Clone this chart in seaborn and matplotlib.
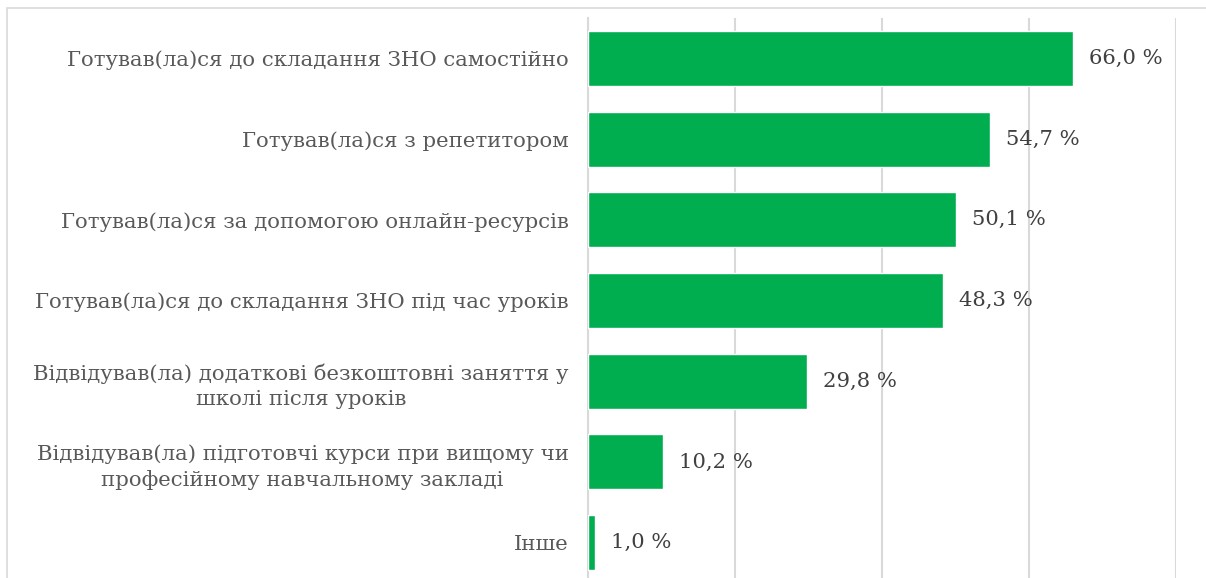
import matplotlib.pyplot as plt
import matplotlib.patches as mpatches
import pandas as pd
import seaborn as sns

categories = [
    "Готував(ла)ся до складання ЗНО самостійно",
    "Готував(ла)ся з репетитором",
    "Готував(ла)ся за допомогою онлайн-ресурсів",
    "Готував(ла)ся до складання ЗНО під час уроків",
    "Відвідував(ла) додаткові безкоштовні заняття у\nшколі після уроків",
    "Відвідував(ла) підготовчі курси при вищому чи\nпрофесійному навчальному закладі",
    "Інше",
]
values = [66.0, 54.7, 50.1, 48.3, 29.8, 10.2, 1.0]
grid_ticks = [0, 20, 40, 60, 80]

df = pd.DataFrame({"category": categories, "value": values})

sns.set_theme(style="white")
plt.rcParams["font.family"] = ["DejaVu Serif", "Liberation Serif"]

W, H = 1206, 578
fig = plt.figure(figsize=(W / 100, H / 100), dpi=100)

# light frame around the chart (cropped on right and bottom)
fig.patches.append(mpatches.Rectangle((7 / W, -0.1), 1.2, (H - 8) / H + 0.1,
                                      transform=fig.transFigure, fill=False,
                                      edgecolor="#D9D9D9", linewidth=1.2))

left, right = 588, 1176
top, bottom = 18, 583
ax = fig.add_axes([left / W, (H - bottom) / H, (right - left) / W, (bottom - top) / H])

sns.barplot(data=df, x="value", y="category", color="#00AE50", width=0.68,
            saturation=1, ax=ax, zorder=3)

ax.set_xlim(0, 80)
ax.set_xticks(grid_ticks)
ax.set_xticklabels([])
ax.tick_params(axis="x", length=0)
ax.tick_params(axis="y", length=0, pad=14, labelsize=15.3, labelcolor="#595959")
for lbl in ax.get_yticklabels():
    lbl.set_multialignment("center")
    lbl.set_linespacing(1.38)
ax.grid(axis="x", color="#D9D9D9", linewidth=1.5, zorder=0)
ax.set_xlabel("")
ax.set_ylabel("")
for s in ["top", "right", "bottom"]:
    ax.spines[s].set_visible(False)
ax.spines["left"].set_color("#D9D9D9")
ax.spines["left"].set_linewidth(1.5)

for i, v in enumerate(values):
    ax.annotate(f"{v:.1f} %".replace(".", ","), xy=(v, i), xytext=(16, 0),
                textcoords="offset pixels", va="center", ha="left",
                fontsize=15.2, color="#404040")

fig.savefig("out.png", dpi=100)
